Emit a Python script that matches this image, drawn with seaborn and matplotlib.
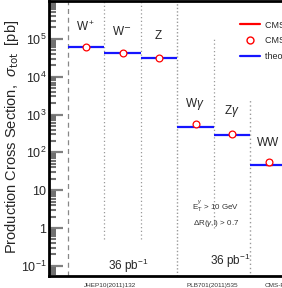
import numpy as np
import pandas as pd
import matplotlib
matplotlib.use("Agg")
import matplotlib.pyplot as plt
import seaborn as sns
from matplotlib.lines import Line2D
from matplotlib.ticker import FixedLocator, FuncFormatter, LogLocator

# values (pb)
processes = ["W$^+$", "W$^{\\mathsf{-}}$", "Z", "W$\\gamma$", "Z$\\gamma$", "WW"]
theory = [61000, 42500, 31000, 480, 295, 46]
measured = [60000, 41000, 30500, 550, 300, 55]
meas_err = [2500, 1800, 1300, 60, 30, 9]
references = ["JHEP10(2011)132", "PLB701(2011)535", "CMS-PAS-EWK-11-010"]
lumi_labels = ["36 pb$^{-1}$", "36 pb$^{-1}$"]

df = pd.DataFrame({
    "process": processes,
    "pos": np.arange(len(processes)) + 0.5,
    "theory": theory,
    "measured": measured,
    "err": meas_err,
})

sns.set_style("ticks")
plt.rcParams["font.family"] = ["Liberation Sans", "DejaVu Sans"]
plt.rcParams["mathtext.fontset"] = "custom"
plt.rcParams["mathtext.rm"] = "Liberation Sans"
plt.rcParams["mathtext.it"] = "Liberation Sans:italic"

fig = plt.figure(figsize=(2.82, 2.88), dpi=100)
ax = fig.add_axes([49 / 282, 12 / 288, 311 / 282, 275 / 288])
ax.set_yscale("log")
ax.set_xlim(-0.52, 8.0)
ax.set_ylim(0.054, 1.0e6)

# separators between processes
ax.axvline(0, color="#888888", ls=(0, (4, 3)), lw=0.9)
ax.vlines([1, 2], 0.5, 1e6, color="#999999", ls=(0, (1, 2)), lw=0.9)
ax.axvline(3, color="#999999", ls=(0, (1, 1.5)), lw=1.0)
ax.vlines(4, 1.0, 1.05e5, color="#999999", ls=(0, (1, 2)), lw=0.9)
ax.vlines(5, 0.05, 2.6e3, color="#999999", ls=(0, (1, 2)), lw=1.0)

# theory predictions as horizontal bars
ax.hlines(df["theory"], df["pos"] - 0.5, df["pos"] + 0.5, color="#1515ff", lw=1.6, zorder=3)

# measurements
ax.errorbar(df["pos"], df["measured"], yerr=df["err"], fmt="none",
            ecolor="red", elinewidth=0.8, capsize=2, zorder=4)
sns.scatterplot(data=df, x="pos", y="measured", ax=ax, s=24, marker="o",
                facecolor="white", edgecolor="red", linewidth=0.9, zorder=5, legend=False)

label_y = [2.1e5, 1.6e5, 1.2e5, 1950, 1260, 175]
for p, xp, ly in zip(df["process"], df["pos"], label_y):
    ax.text(xp - 0.02, ly, p, ha="center", va="center", fontsize=8.5)

ax.text(1.64, 0.1, lumi_labels[0], ha="center", va="center", fontsize=8.5)
ax.text(4.44, 0.135, lumi_labels[1], ha="center", va="center", fontsize=8.5)
ax.text(4.05, 3.6, "E$_\\mathsf{T}^{\\gamma}$ > 10 GeV", ha="center", va="center",
        fontsize=5.8, color="#333333")
ax.text(4.05, 1.35, "$\\Delta$R($\\gamma$,l) > 0.7", ha="center", va="center",
        fontsize=5.8, color="#333333")

ref_x = [1.15, 3.95, 6.3]
for r, xr in zip(references, ref_x):
    ax.text(xr, -0.035, r, transform=ax.get_xaxis_transform(), ha="center",
            va="center", fontsize=4.6, color="#333333", clip_on=False)

# y axis styling
ax.yaxis.set_major_locator(FixedLocator([1e-1, 1, 10, 1e2, 1e3, 1e4, 1e5]))
ax.yaxis.set_minor_locator(LogLocator(base=10, subs=np.arange(2, 10), numticks=20))


def fmt(v, _):
    e = int(round(np.log10(v)))
    if e == 0:
        return "1"
    if e == 1:
        return "10"
    return "$10^{%d}$" % e


ax.yaxis.set_major_formatter(FuncFormatter(fmt))
ax.yaxis.set_minor_formatter(FuncFormatter(lambda v, _: ""))
ax.tick_params(axis="y", which="major", direction="in", length=10, width=1.6,
               color="#808080", labelsize=9, pad=2)
ax.tick_params(axis="y", which="minor", direction="in", length=5, width=1.5,
               color="#707070")
ax.tick_params(axis="x", bottom=False, labelbottom=False)
ax.set_xlabel("")
ax.set_ylabel("")
for s in ["left", "bottom", "top"]:
    ax.spines[s].set_linewidth(2.0)
    ax.spines[s].set_color("black")
ax.spines["right"].set_visible(False)

fig.text(0.042, 0.525, "Production Cross Section,  $\\sigma_{\\mathsf{tot}}$  [pb]",
         rotation=90, ha="center", va="center", fontsize=10.5)

# legend (partially cut off at the right edge, as in the reference)
handles = [
    Line2D([], [], color="red", lw=1.6),
    Line2D([], [], color="red", marker="o", mfc="white", mec="red", ms=5, lw=0),
    Line2D([], [], color="#1515ff", lw=1.6),
]
names = ["CMS 95% C.L. limit", "CMS measurement", "theory prediction"]
fig.legend(handles, names, loc="upper left", bbox_to_anchor=(236 / 282, 1 - 17 / 288),
           frameon=False, fontsize=6.5, handlelength=2.3, handletextpad=0.5,
           labelspacing=0.75, borderaxespad=0)

fig.savefig("out.png", dpi=100)
